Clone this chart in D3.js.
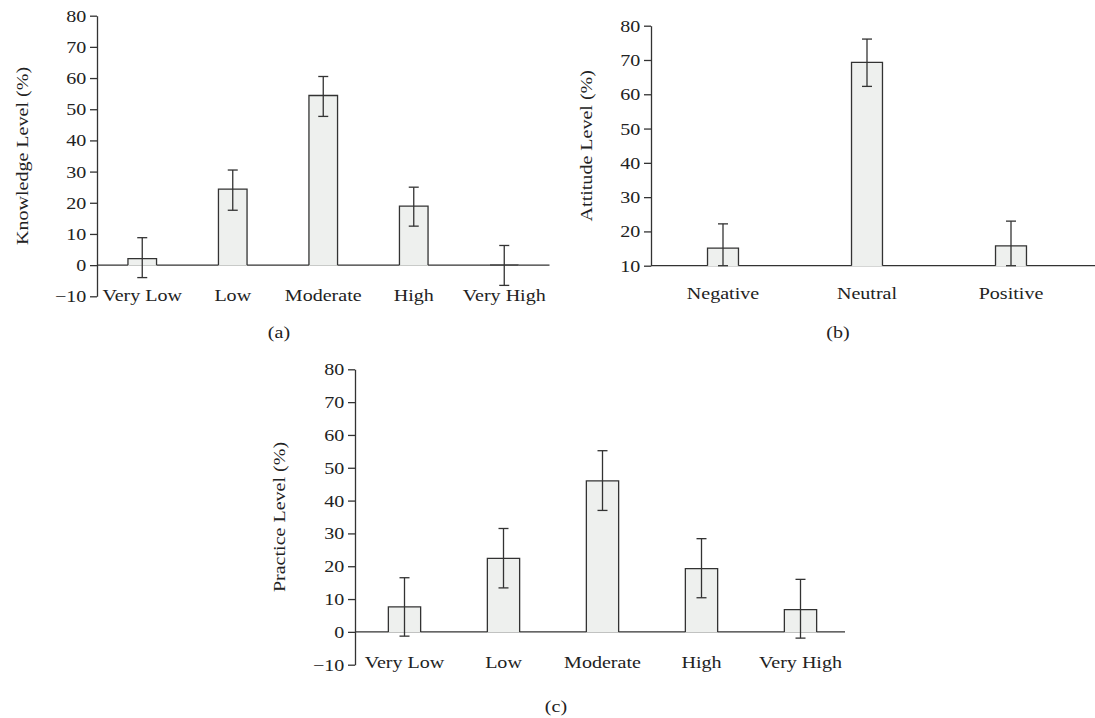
<!DOCTYPE html>
<html>
<head>
<meta charset="utf-8">
<script src="https://cdn.jsdelivr.net/npm/d3@7"></script>
<style>
  body { margin: 0; background: #fff; }
  svg text { font-family: "Liberation Serif", "Times New Roman", serif; fill: #222; }
</style>
</head>
<body>
<script>
var levels5 = ['Very Low', 'Low', 'Moderate', 'High', 'Very High'];
var attitudeCats = ['Negative', 'Neutral', 'Positive'];
var yTicksFull = [-10, 0, 10, 20, 30, 40, 50, 60, 70, 80];
var yTicksAttitude = [10, 20, 30, 40, 50, 60, 70, 80];

var knowledgeVals = [2.1, 24.4, 54.4, 18.9, 0];
var knowledgeHi = [8.8, 30.5, 60.5, 25.0, 6.3];
var knowledgeLo = [-4.0, 17.6, 47.7, 12.5, -6.5];

var attitudeVals = [15.1, 69.3, 15.8];
var attitudeHi = [22.2, 76.1, 23.0];
var attitudeLo = [10, 62.3, 10];

var practiceVals = [7.6, 22.4, 46.0, 19.3, 6.8];
var practiceHi = [16.5, 31.5, 55.2, 28.4, 16.0];
var practiceLo = [-1.3, 13.4, 37.0, 10.4, -1.9];

var width = 1095;
var height = 718;
var stretch = 1.18;   // the source font runs wider than Times
var ink = '#333';

var svg = d3.select('body').append('svg')
  .attr('width', width)
  .attr('height', height);

var drawPanel = function(opt) {
  var g = svg.append('g');
  var x = d3.scaleBand().domain(opt.cats).range(opt.xRange)
    .paddingInner(opt.pad).paddingOuter(opt.pad / 2);
  var y = d3.scaleLinear().domain(opt.yDomain).range(opt.yRange);
  var base = opt.yDomain[0] < 0 ? 0 : opt.yDomain[0];
  var rows = opt.cats.map(function(c, i) {
    return { cat: c, v: opt.vals[i], hi: opt.hi[i], lo: opt.lo[i] };
  });

  // baseline
  g.append('line')
    .attr('x1', opt.xRange[0]).attr('x2', opt.baseEnd)
    .attr('y1', y(base)).attr('y2', y(base))
    .attr('stroke', ink).attr('stroke-width', 1.3);

  // bar fills (cover the baseline under the bar a little)
  g.selectAll('.bar').data(rows).enter().append('rect')
    .attr('class', 'bar')
    .attr('x', function(d) { return x(d.cat); })
    .attr('y', function(d) { return y(d.v); })
    .attr('width', x.bandwidth())
    .attr('height', function(d) { return y(base) - y(d.v) + 0.6; })
    .attr('fill', '#eef0ee');

  // bar outlines: left, top, right
  g.selectAll('.outline').data(rows).enter().append('path')
    .attr('class', 'outline')
    .attr('d', function(d) {
      var x0 = x(d.cat), x1 = x0 + x.bandwidth();
      return 'M' + x0 + ',' + y(base) + 'V' + y(d.v) + 'H' + x1 + 'V' + y(base);
    })
    .attr('fill', 'none').attr('stroke', ink).attr('stroke-width', 1.3);

  // error bars
  var cap = 5;
  var err = g.selectAll('.err').data(rows).enter().append('g').attr('class', 'err')
    .attr('stroke', ink).attr('stroke-width', 1.3);
  err.append('line')
    .attr('x1', function(d) { return x(d.cat) + x.bandwidth() / 2; })
    .attr('x2', function(d) { return x(d.cat) + x.bandwidth() / 2; })
    .attr('y1', function(d) { return y(d.lo); })
    .attr('y2', function(d) { return y(d.hi); });
  ['hi', 'lo'].forEach(function(k) {
    err.append('line')
      .attr('x1', function(d) { return x(d.cat) + x.bandwidth() / 2 - cap; })
      .attr('x2', function(d) { return x(d.cat) + x.bandwidth() / 2 + cap; })
      .attr('y1', function(d) { return y(d[k]); })
      .attr('y2', function(d) { return y(d[k]); });
  });

  // y axis
  var yAxis = g.append('g')
    .attr('transform', 'translate(' + opt.xRange[0] + ',0)')
    .call(d3.axisLeft(y).tickValues(opt.yTicks).tickSize(7).tickSizeOuter(0).tickPadding(2)
      .tickFormat(function(d) { return d < 0 ? '\u2212' + Math.abs(d) : d; }));
  yAxis.select('.domain').attr('stroke', ink).attr('stroke-width', 1.3);
  yAxis.selectAll('.tick line').attr('stroke', ink).attr('stroke-width', 1.3);
  yAxis.selectAll('.tick text')
    .attr('font-size', 17)
    .attr('font-family', '"Liberation Serif", serif')
    .attr('fill', '#222')
    .attr('transform', 'scale(' + stretch + ',1)');

  // category labels
  g.selectAll('.cat').data(rows).enter().append('text')
    .attr('class', 'cat')
    .attr('transform', function(d) {
      return 'translate(' + (x(d.cat) + x.bandwidth() / 2) + ',' + (y(base) + opt.labelGap) + ') scale(' + stretch + ',1)';
    })
    .attr('dy', '0.32em')
    .attr('text-anchor', 'middle')
    .attr('font-size', 17)
    .text(function(d) { return d.cat; });

  // axis title
  g.append('text')
    .attr('transform', 'translate(' + opt.titleX + ',' + ((opt.yRange[0] + opt.yRange[1]) / 2) + ') rotate(-90) scale(' + stretch + ',1)')
    .attr('dy', '0.32em')
    .attr('text-anchor', 'middle')
    .attr('font-size', 17)
    .text(opt.title);

  // panel letter
  g.append('text')
    .attr('transform', 'translate(' + opt.tag[0] + ',' + opt.tag[1] + ') scale(' + stretch + ',1)')
    .attr('dy', '0.32em')
    .attr('text-anchor', 'middle')
    .attr('font-size', 17)
    .text(opt.tag[2]);
};

drawPanel({
  cats: levels5, vals: knowledgeVals, hi: knowledgeHi, lo: knowledgeLo,
  xRange: [97, 549.5], baseEnd: 549.5, pad: 0.684,
  yDomain: [-10, 80], yRange: [296.3, 15.7], yTicks: yTicksFull,
  labelGap: 30.5, title: 'Knowledge Level (%)', titleX: 22.5,
  tag: [279, 333, '(a)']
});

drawPanel({
  cats: attitudeCats, vals: attitudeVals, hi: attitudeHi, lo: attitudeLo,
  xRange: [651, 1083], baseEnd: 1095, pad: 0.785,
  yDomain: [10, 80], yRange: [265.7, 25.7], yTicks: yTicksAttitude,
  labelGap: 27.5, title: 'Attitude Level (%)', titleX: 587,
  tag: [838, 333, '(b)']
});

drawPanel({
  cats: levels5, vals: practiceVals, hi: practiceHi, lo: practiceLo,
  xRange: [355, 850], baseEnd: 845, pad: 0.674,
  yDomain: [-10, 80], yRange: [664.7, 369.3], yTicks: yTicksFull,
  labelGap: 31, title: 'Practice Level (%)', titleX: 280,
  tag: [556, 707, '(c)']
});
</script>
</body>
</html>
